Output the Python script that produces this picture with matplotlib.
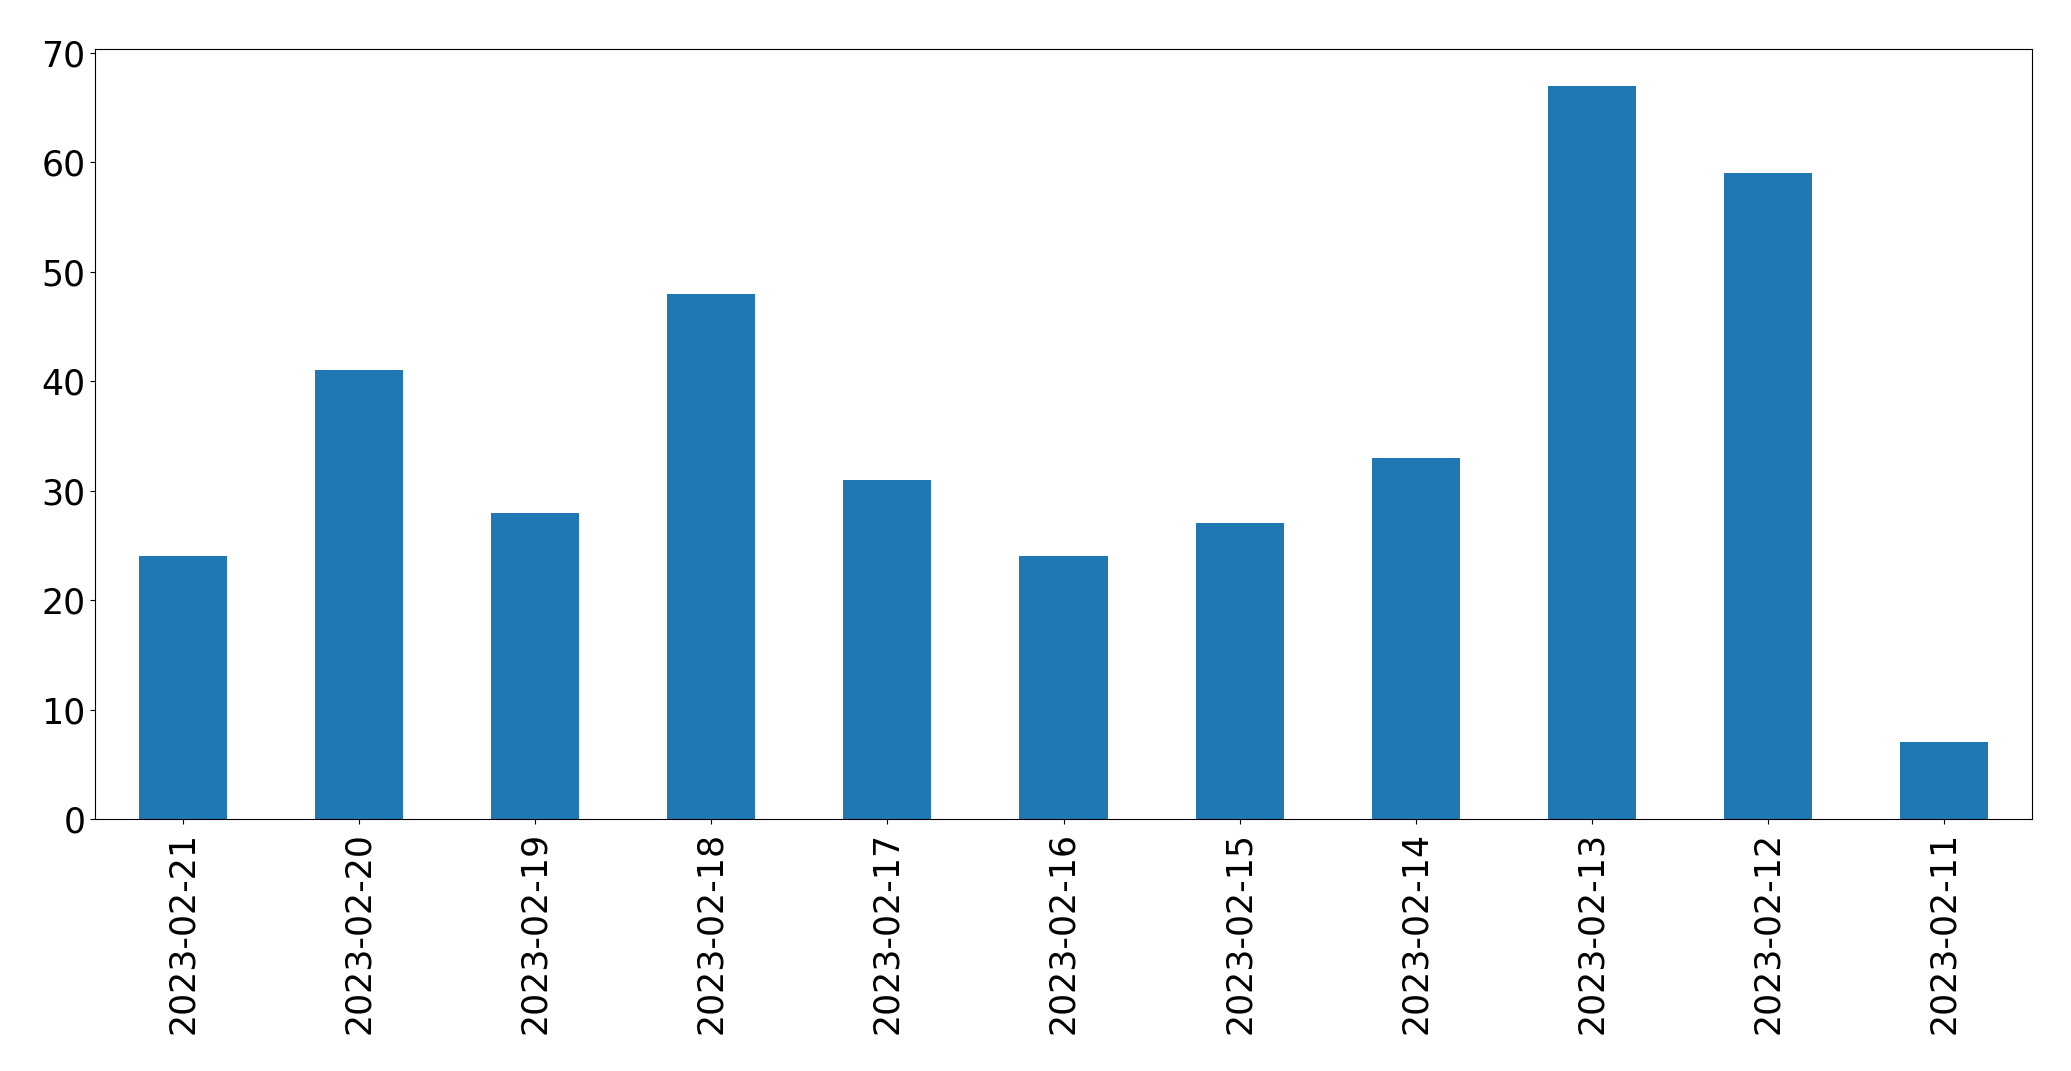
import matplotlib
matplotlib.use("Agg")
import matplotlib.pyplot as plt

dates = ["2023-02-21", "2023-02-20", "2023-02-19", "2023-02-18", "2023-02-17",
         "2023-02-16", "2023-02-15", "2023-02-14", "2023-02-13", "2023-02-12",
         "2023-02-11"]
counts = [24, 41, 28, 48, 31, 24, 27, 33, 67, 59, 7]

fig = plt.figure(figsize=(20.71, 10.71), dpi=100)
ax = fig.add_axes([95 / 2071, 1 - 819 / 1071, (2032 - 95) / 2071, (819 - 49) / 1071])

x = range(len(dates))
ax.bar(x, counts, width=0.5, color="#1f77b4")
ax.set_xlim(-0.5, len(dates) - 0.5)
ax.set_ylim(0, max(counts) * 1.05)
ax.set_xticks(list(x))
ax.set_xticklabels(dates, rotation=90)
ax.tick_params(labelsize=25)
ax.tick_params(axis="x", pad=6)

fig.savefig("out.png", dpi=100)
